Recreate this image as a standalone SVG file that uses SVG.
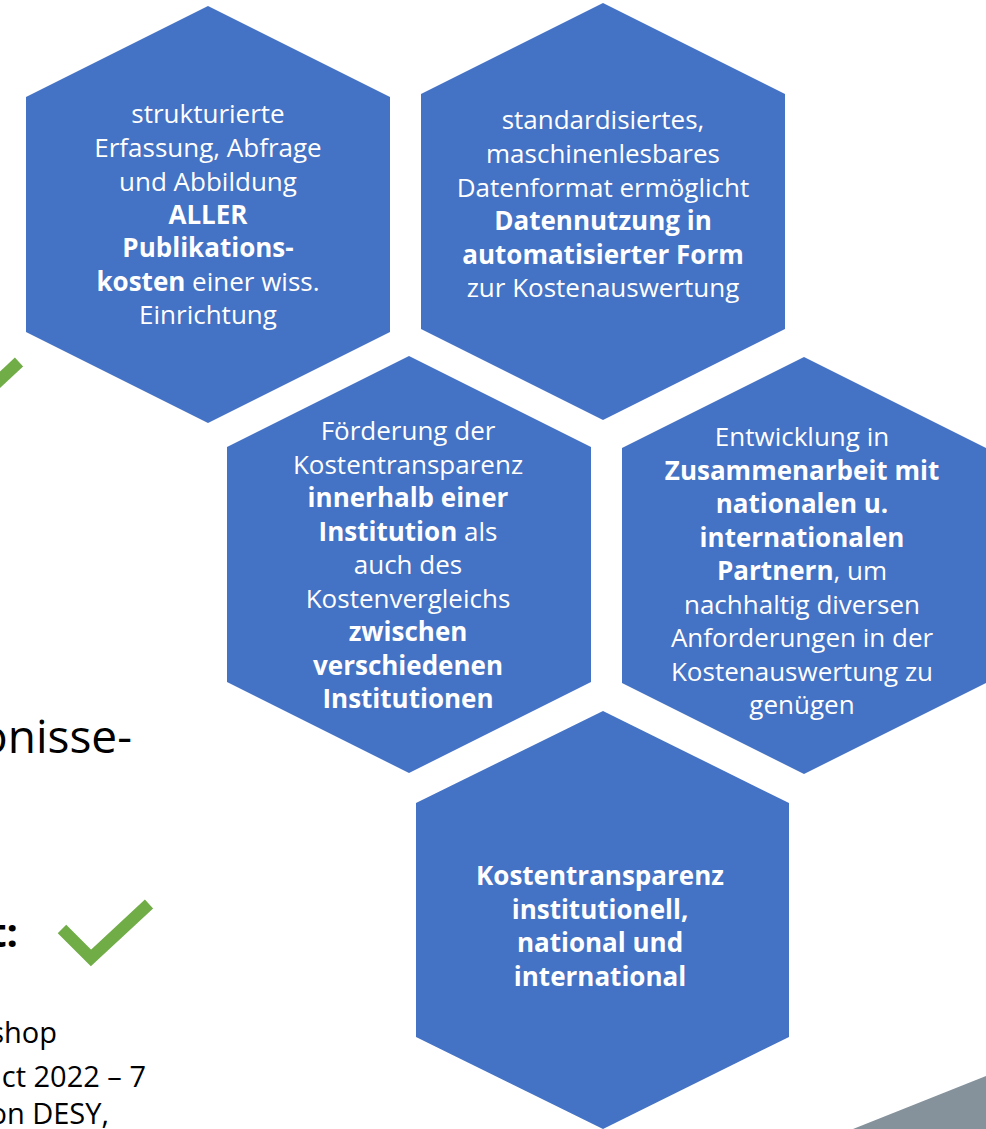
<svg xmlns="http://www.w3.org/2000/svg" xmlns:xlink="http://www.w3.org/1999/xlink" width="986" height="1129" viewBox="0 0 986 1129">
<style>
.hex{fill:#4472C4}
.ht{font-family:"Open Sans","Noto Sans",sans-serif;font-size:26px;fill:#fff;text-anchor:middle;font-weight:400}
.b{font-weight:700;font-size:26px}
.side{font-family:"Open Sans","Noto Sans",sans-serif;fill:#000}
.check{fill:none;stroke:#70AD47;stroke-width:12;stroke-linecap:butt;stroke-linejoin:miter}
</style>
<defs>
<polygon id="hexshape" points="0,-208.5 182,-117.5 182,117.5 0,208.5 -182,117.5 -182,-117.5"/>
</defs>
<rect width="986" height="1129" fill="#fff"/>
<g id="background">
<polygon points="853,1129 986,1076 986,1129" fill="#85929B"/>
<polyline class="check" points="-10,389 19,362"/>
<polyline class="check" points="62,929 91,958 149,904"/>
<text class="side" x="132" y="753" font-size="46" text-anchor="end">onisse-</text>
<text class="side" x="18" y="947" font-size="40" font-weight="700" text-anchor="end">t:</text>
<text class="side" x="57" y="1043" font-size="29" text-anchor="end">shop</text>
<text class="side" x="146" y="1087" font-size="29" text-anchor="end">ct 2022 – 7</text>
<text class="side" x="109" y="1124" font-size="29" text-anchor="end">on DESY,</text>
</g>
<g id="connectors"/>
<g id="node1">
<use xlink:href="#hexshape" class="hex" x="208" y="214.5"/>
<text class="ht" x="208" y="123">strukturierte</text>
<text class="ht" x="208" y="157">Erfassung, Abfrage</text>
<text class="ht" x="208" y="191">und Abbildung</text>
<text class="ht b" x="208" y="224">ALLER</text>
<text class="ht b" x="208" y="257">Publikations-</text>
<text class="ht" x="208" y="291"><tspan class="b">kosten</tspan> einer wiss.</text>
<text class="ht" x="208" y="324">Einrichtung</text>
</g>
<g id="node2">
<use xlink:href="#hexshape" class="hex" x="603" y="211.5"/>
<text class="ht" x="603" y="129">standardisiertes,</text>
<text class="ht" x="603" y="163">maschinenlesbares</text>
<text class="ht" x="603" y="197">Datenformat ermöglicht</text>
<text class="ht b" x="603" y="230">Datennutzung in</text>
<text class="ht b" x="603" y="264">automatisierter Form</text>
<text class="ht" x="603" y="297">zur Kostenauswertung</text>
</g>
<g id="node3">
<use xlink:href="#hexshape" class="hex" x="409" y="564.5"/>
<text class="ht" x="408" y="440">Förderung der</text>
<text class="ht" x="408" y="473.5">Kostentransparenz</text>
<text class="ht b" x="408" y="507">innerhalb einer</text>
<text class="ht" x="408" y="540.5"><tspan class="b">Institution</tspan> als</text>
<text class="ht" x="408" y="574">auch des</text>
<text class="ht" x="408" y="607.5">Kostenvergleichs</text>
<text class="ht b" x="408" y="641">zwischen</text>
<text class="ht b" x="408" y="674.5">verschiedenen</text>
<text class="ht b" x="408" y="708">Institutionen</text>
</g>
<g id="node4">
<use xlink:href="#hexshape" class="hex" x="804" y="565.5"/>
<text class="ht" x="802" y="446">Entwicklung in</text>
<text class="ht b" x="802" y="479.5">Zusammenarbeit mit</text>
<text class="ht b" x="802" y="513">nationalen u.</text>
<text class="ht b" x="802" y="546.5">internationalen</text>
<text class="ht" x="802" y="580"><tspan class="b">Partnern</tspan>, um</text>
<text class="ht" x="802" y="613.5">nachhaltig diversen</text>
<text class="ht" x="802" y="647">Anforderungen in der</text>
<text class="ht" x="802" y="680.5">Kostenauswertung zu</text>
<text class="ht" x="802" y="714">genügen</text>
</g>
<g id="node5">
<polygon class="hex" points="603,711 789,803 789,1037 603,1129 416,1037 416,803"/>
<text class="ht b" x="600" y="885">Kostentransparenz</text>
<text class="ht b" x="600" y="918.5">institutionell,</text>
<text class="ht b" x="600" y="952">national und</text>
<text class="ht b" x="600" y="985.5">international</text>
</g>
</svg>
